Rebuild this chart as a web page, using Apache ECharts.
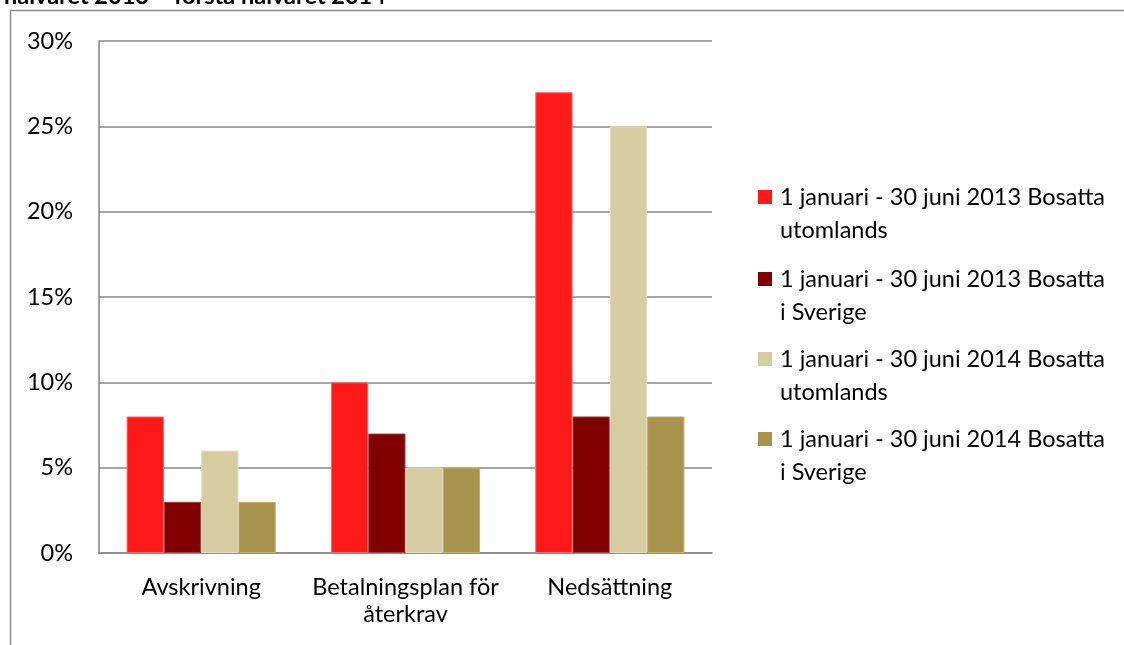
<!DOCTYPE html>
<html><head><meta charset="utf-8">
<script src="https://cdn.jsdelivr.net/npm/echarts@6/dist/echarts.min.js"></script>
<style>html,body{margin:0;padding:0;background:#fff}#c{width:1124px;height:645px}</style>
</head><body><div id="c"></div>
<script>
var categories = ['Avskrivning', 'Betalningsplan för\nåterkrav', 'Nedsättning'];
var seriesNames = ['1 januari - 30 juni 2013 Bosatta\nutomlands', '1 januari - 30 juni 2013 Bosatta\ni Sverige', '1 januari - 30 juni 2014 Bosatta\nutomlands', '1 januari - 30 juni 2014 Bosatta\ni Sverige'];
var s2013Utomlands = [8, 10, 27];
var s2013Sverige = [3, 7, 8];
var s2014Utomlands = [6, 5, 25];
var s2014Sverige = [3, 5, 8];
var yTicks = [0, 5, 10, 15, 20, 25, 30];
var titleText = 'halvåret 2013 – första halvåret 2014';

var colors = ['#FF1A1A', '#800000', '#D7CBA1', '#A8934D'];
var borders = ['#FF6666', '#A04040', '#E6DCC0', '#C2AE70'];
var FONT = 'Lato, "Open Sans", sans-serif';
var FS = 23.5;
var values = [s2013Utomlands, s2013Sverige, s2014Utomlands, s2014Sverige];
var chart = echarts.init(document.getElementById('c'));
var legendCenters = [197, 279, 359, 439];
chart.setOption({
  animation: false,
  title: {text: titleText, left: -1, top: -21, textStyle: {fontFamily: FONT, fontSize: FS, fontWeight: 'bold', color: '#000'}},
  graphic: [{type: 'rect', shape: {x: 10.5, y: 10.5, width: 1200, height: 700}, style: {fill: 'none', stroke: '#8c8c8c', lineWidth: 1.5}, silent: true, z: -1}],
  grid: {left: 99, right: 412, top: 41, bottom: 92},
  legend: seriesNames.map(function (n, i) {
    return {data: [n], orient: 'vertical', left: 753, top: legendCenters[i] - 21.5,
      itemWidth: 17, itemHeight: 47, icon: 'path://M0,0h14v14h-14z M0,47h17', selectedMode: false,
      itemStyle: {borderWidth: 0},
      textStyle: {fontFamily: FONT, fontSize: FS, color: '#000', lineHeight: 33}, itemGap: 0};
  }),
  xAxis: {type: 'category', data: categories,
    axisLine: {lineStyle: {color: '#868686', width: 1.5}}, axisTick: {show: false},
    axisLabel: {fontFamily: FONT, fontSize: FS, color: '#000', margin: 21, lineHeight: 27, interval: 0}},
  yAxis: {type: 'value', min: 0, max: 30, interval: 5,
    axisLine: {show: true, lineStyle: {color: '#868686', width: 1.5}}, axisTick: {show: false},
    splitLine: {lineStyle: {color: '#868686', width: 1.5}},
    axisLabel: {fontFamily: FONT, fontSize: FS, color: '#000', margin: 26,
      formatter: function (v) { return yTicks.indexOf(v) >= 0 ? v + '%' : ''; }}},
  series: values.map(function (d, i) {
    return {name: seriesNames[i], type: 'bar', data: d, barGap: '0%', barCategoryGap: '27%',
      itemStyle: {color: colors[i], borderColor: borders[i], borderWidth: 1}};
  })
});
</script></body></html>
